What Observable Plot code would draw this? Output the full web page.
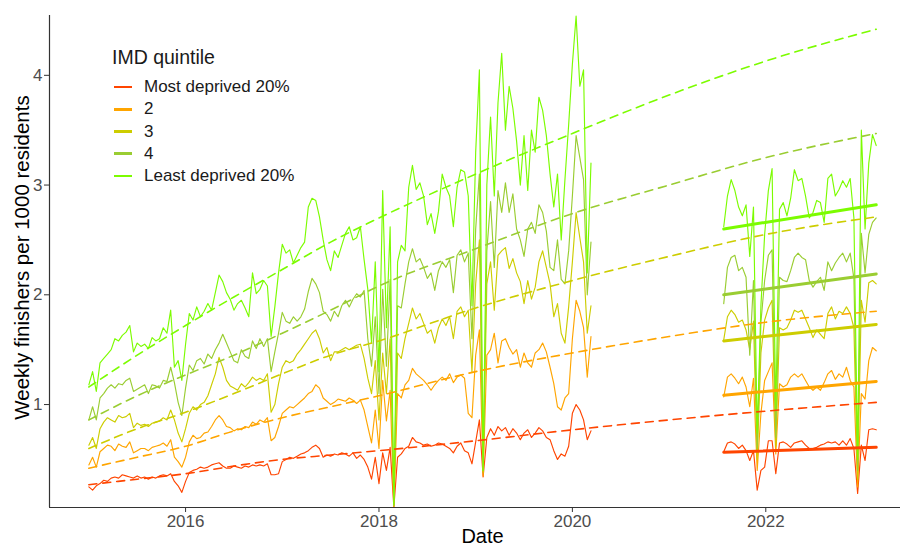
<!DOCTYPE html>
<html>
<head>
<meta charset="utf-8">
<script src="https://cdn.jsdelivr.net/npm/d3@7"></script>
<script src="https://cdn.jsdelivr.net/npm/@observablehq/plot@0.6"></script>
<style>
  html, body { margin: 0; padding: 0; background: #ffffff; }
  #wrap { position: relative; width: 901px; height: 548px; overflow: hidden;
          font-family: "Liberation Sans", Arial, Helvetica, sans-serif; background: #fff; }
  #wrap svg { display: block; }
  #wrap g[aria-label$="tick label"], #wrap g[aria-label$="tick label"] text { fill: #4d4d4d; }
  #wrap g[aria-label$="-axis tick"] { stroke: #333333; }
  .lg { position: absolute; white-space: nowrap; color: #1a1a1a; }
  .lg-title { font-size: 19.5px; line-height: 22px; }
  .lg-label { font-size: 17px; line-height: 22px; }
  .lg-key { position: absolute; height: 2.8px; width: 18px; }
</style>
</head>
<body>
<div id="wrap"></div>
<script>
// ---------------- data ----------------
const quintiles = ["Most deprived 20%", "2", "3", "4", "Least deprived 20%"];
const quintileColors = ["#FF4500", "#FFA500", "#CDCD00", "#9ACD32", "#7CFC00"];
const legendTitle = "IMD quintile";
const xTitle = "Date";
const yTitle = "Weekly finishers per 1000 residents";
const xTicks = [2016, 2018, 2020, 2022];
const yTicks = [1, 2, 3, 4];

// sampling schedule (decimal years, fortnightly samples)
const preStart = 2015.0;
const postStart = 2021.565;
const stepYears = 1 / 26;

// weekly finishers per 1000 residents, pre-pandemic (Jan 2015 - Mar 2020)
const preMostDeprived = [
0.25,0.22,0.26,0.28,0.31,0.30,0.33,0.34,0.33,0.36,
0.35,0.34,0.33,0.35,0.33,0.34,0.32,0.34,0.33,0.35,
0.36,0.35,0.37,0.30,0.26,0.20,0.30,0.38,0.40,0.41,
0.43,0.42,0.43,0.45,0.46,0.47,0.44,0.42,0.42,0.44,
0.43,0.42,0.44,0.43,0.45,0.44,0.45,0.44,0.46,0.36,
0.36,0.37,0.48,0.50,0.52,0.51,0.53,0.55,0.56,0.58,
0.61,0.63,0.60,0.52,0.54,0.53,0.55,0.54,0.56,0.55,
0.53,0.56,0.51,0.54,0.50,0.43,0.32,0.52,0.28,0.56,
0.40,0.61,0.065,0.52,0.55,0.60,0.62,0.70,0.66,0.65,
0.63,0.64,0.62,0.63,0.65,0.64,0.62,0.60,0.56,0.62,
0.65,0.58,0.56,0.46,0.66,0.86,0.34,0.70,0.78,0.72,
0.80,0.76,0.79,0.72,0.78,0.74,0.68,0.74,0.77,0.70,
0.74,0.79,0.76,0.70,0.68,0.58,0.50,0.55,0.53,0.62,
0.92,1.00,0.95,0.86,0.68,0.76];
const preQ2 = [
0.45,0.52,0.43,0.57,0.60,0.63,0.62,0.58,0.64,0.62,
0.61,0.66,0.56,0.58,0.60,0.60,0.58,0.61,0.62,0.63,
0.65,0.62,0.68,0.52,0.48,0.43,0.52,0.66,0.72,0.69,
0.70,0.74,0.75,0.80,0.86,0.90,0.86,0.80,0.79,0.76,
0.78,0.77,0.80,0.79,0.84,0.82,0.86,0.84,0.88,0.67,
0.70,0.80,0.92,0.95,0.98,0.97,1.00,1.03,1.06,1.10,
1.12,1.18,1.15,1.06,1.03,1.00,1.02,1.05,1.04,1.03,
1.06,1.04,1.01,1.04,0.95,0.80,0.65,0.95,0.60,1.22,
0.85,1.13,0.07,1.10,1.06,1.18,1.22,1.33,1.28,1.25,
1.22,1.18,1.13,1.18,1.22,1.25,1.22,1.28,1.20,1.25,
1.27,1.24,0.92,0.88,1.45,1.68,0.35,1.45,1.50,1.65,
1.38,1.58,1.60,1.52,1.46,1.50,1.34,1.47,1.38,1.34,
1.47,1.50,1.56,1.48,1.34,1.19,0.98,0.95,1.06,1.10,
1.60,1.95,1.85,1.70,1.25,1.62];
const preQ3 = [
0.63,0.70,0.60,0.78,0.84,0.88,0.86,0.84,0.90,0.88,
0.89,0.92,0.79,0.83,0.81,0.82,0.80,0.83,0.84,0.85,
0.88,0.86,0.95,0.86,0.74,0.66,0.78,0.92,0.98,0.95,
1.00,1.02,1.08,1.18,1.28,1.43,1.34,1.22,1.17,1.15,
1.13,1.19,1.16,1.20,1.25,1.22,1.24,1.22,1.28,0.93,
1.00,1.19,1.34,1.40,1.38,1.40,1.46,1.50,1.55,1.60,
1.65,1.68,1.60,1.47,1.52,1.40,1.48,1.48,1.50,1.52,
1.50,1.52,1.54,1.55,1.42,1.24,1.10,1.40,0.86,1.47,
1.10,1.60,0.075,1.47,1.42,1.60,1.74,1.88,1.78,1.83,
1.74,1.65,1.68,1.56,1.70,1.78,1.72,1.80,1.60,1.85,
1.89,1.80,1.86,1.30,2.10,2.50,0.38,2.10,2.30,1.86,
2.36,2.40,2.43,2.24,2.33,2.20,2.12,1.92,2.13,1.96,
2.07,2.30,2.40,2.25,2.10,1.80,1.92,1.65,1.56,1.89,
2.30,2.75,2.52,2.30,1.65,1.90];
const preQ4 = [
0.86,0.98,0.86,1.06,1.10,1.15,1.18,1.15,1.19,1.18,
1.22,1.24,1.12,1.14,1.16,1.18,1.10,1.18,1.17,1.15,
1.22,1.21,1.34,1.20,1.02,0.90,1.15,1.36,1.31,1.40,
1.42,1.37,1.46,1.42,1.50,1.56,1.64,1.56,1.48,1.40,
1.38,1.50,1.44,1.42,1.58,1.51,1.60,1.53,1.60,1.30,
1.48,1.65,1.84,1.76,1.74,1.80,1.76,1.80,1.87,2.03,
2.15,2.10,2.02,1.85,1.82,1.76,1.85,1.80,1.90,1.95,
1.89,1.96,2.01,1.98,2.04,1.60,1.35,1.80,1.10,2.05,
1.35,2.14,0.08,1.90,1.88,2.10,2.30,2.42,2.30,2.33,
2.25,2.15,2.20,2.04,2.22,2.30,2.25,2.32,2.02,2.36,
2.41,2.30,2.38,1.60,2.60,3.10,0.40,2.40,2.85,2.25,
2.95,2.75,3.02,2.75,2.92,2.60,2.50,2.35,2.60,2.66,
2.56,2.82,2.75,2.58,2.25,2.22,2.50,2.14,2.10,2.40,
2.90,3.45,3.25,3.05,2.00,2.48];
const preLeastDeprived = [
1.18,1.30,1.12,1.38,1.42,1.46,1.50,1.60,1.58,1.63,
1.66,1.72,1.48,1.56,1.53,1.55,1.51,1.61,1.58,1.60,
1.70,1.65,1.86,1.34,1.40,1.22,1.55,1.83,1.77,1.89,
1.80,1.85,1.92,1.86,2.02,2.18,2.12,2.02,1.96,1.86,
1.92,1.95,1.88,1.80,2.20,2.01,2.05,2.13,2.08,1.62,
1.89,2.20,2.46,2.38,2.41,2.29,2.36,2.43,2.48,2.80,
2.88,2.86,2.71,2.50,2.32,2.22,2.40,2.34,2.45,2.56,
2.62,2.50,2.52,2.62,2.32,2.05,1.56,2.30,1.30,2.95,
1.70,2.62,0.09,2.30,2.45,2.40,2.98,3.18,2.96,3.02,
2.90,2.64,2.74,2.56,2.76,3.10,2.98,2.90,2.62,2.98,
3.14,3.12,2.90,1.90,3.30,4.05,0.40,3.00,3.62,2.90,
3.75,4.20,3.50,3.90,3.70,3.40,3.00,3.45,2.95,3.50,
3.30,3.80,3.68,3.45,3.10,2.80,3.10,2.50,3.05,3.55,
4.10,4.54,3.90,4.05,2.20,3.20];

// post-restart (Jul 2021 - Feb 2023)
const postMostDeprived = [
0.57,0.65,0.66,0.64,0.60,0.63,0.58,0.49,0.58,0.22,
0.40,0.43,0.67,0.67,0.37,0.65,0.66,0.64,0.61,0.65,
0.66,0.67,0.63,0.60,0.60,0.61,0.63,0.64,0.66,0.65,
0.66,0.63,0.67,0.63,0.69,0.60,0.19,0.63,0.49,0.77,
0.78,0.77];
const postQ2 = [
1.07,1.25,1.28,1.24,1.19,1.25,1.16,0.98,1.24,0.40,
0.92,1.22,1.30,1.38,0.55,1.19,1.16,1.18,1.25,1.28,
1.25,1.28,1.22,1.16,1.13,1.16,1.13,1.20,1.28,1.31,
1.23,1.28,1.25,1.34,1.22,1.16,0.25,1.10,1.05,1.40,
1.52,1.49];
const postQ3 = [
1.59,1.80,1.86,1.82,1.75,1.77,1.68,1.50,1.76,0.50,
1.47,1.77,1.88,1.95,0.62,1.70,1.68,1.70,1.77,1.86,
1.84,1.86,1.78,1.70,1.61,1.68,1.64,1.60,1.83,1.89,
1.78,1.85,1.83,1.89,1.83,1.70,0.32,1.95,1.75,2.11,
2.13,2.10];
const postQ4 = [
1.92,2.25,2.34,2.36,2.22,2.25,2.16,1.45,2.13,0.60,
1.75,2.13,2.36,2.41,0.70,2.16,2.13,2.12,2.22,2.34,
2.38,2.34,2.32,2.13,2.07,2.12,2.16,2.04,2.30,2.22,
2.29,2.34,2.38,2.30,2.38,2.15,0.40,2.56,2.20,2.55,
2.66,2.70];
const postLeastDeprived = [
2.62,2.90,3.05,2.95,2.80,2.72,2.82,2.35,2.80,0.74,
1.90,2.55,2.95,3.15,0.95,2.78,2.84,2.72,2.88,3.14,
3.04,3.06,2.90,2.70,2.75,2.86,2.84,2.66,3.06,3.10,
2.90,2.96,3.04,2.98,3.06,2.70,0.50,3.50,2.60,3.20,
3.46,3.36];

// pre-pandemic trend (dashed), read at these years and projected to 2023
const trendYears = [2015.0, 2015.5, 2016.0, 2016.5, 2017.0, 2017.5, 2018.0, 2019.0, 2020.0, 2021.0, 2022.0, 2023.142];
const trendMostDeprived = [0.27,0.32,0.37,0.44,0.50,0.54,0.58,0.67,0.77,0.86,0.94,1.02];
const trendQ2 = [0.42,0.52,0.62,0.76,0.88,0.98,1.08,1.30,1.47,1.62,1.75,1.85];
const trendQ3 = [0.60,0.78,0.93,1.10,1.28,1.45,1.58,1.88,2.13,2.35,2.55,2.71];
const trendQ4 = [0.86,1.08,1.27,1.45,1.65,1.86,2.08,2.42,2.74,3.00,3.25,3.47];
const trendLeastDeprived = [1.16,1.45,1.72,1.98,2.23,2.48,2.70,3.10,3.47,3.82,4.13,4.42];

// post-restart linear trend (solid): value at first and last week
const postTrendStart = [0.565, 1.085, 1.58, 2.00, 2.60];
const postTrendEnd = [0.61, 1.21, 1.73, 2.19, 2.82];

// ---------------- build tables ----------------
const preSeries = [preMostDeprived, preQ2, preQ3, preQ4, preLeastDeprived];
const postSeries = [postMostDeprived, postQ2, postQ3, postQ4, postLeastDeprived];
const trendSeries = [trendMostDeprived, trendQ2, trendQ3, trendQ4, trendLeastDeprived];

const seriesRows = quintiles.map((q, k) => {
  const rows = [];
  preSeries[k].forEach((v, i) => rows.push({q, seg: "pre", t: preStart + i * stepYears, v}));
  postSeries[k].forEach((v, j) => rows.push({q, seg: "post", t: postStart + j * stepYears, v}));
  return rows;
});
const trendRows = [];
quintiles.forEach((q, k) => trendYears.forEach((t, i) => trendRows.push({q, t, v: trendSeries[k][i]})));
const postTrendRows = [];
quintiles.forEach((q, k) => {
  const tEnd = postStart + (postSeries[k].length - 1) * stepYears;
  postTrendRows.push({q, t: postStart, v: postTrendStart[k]});
  postTrendRows.push({q, t: tEnd, v: postTrendEnd[k]});
});

// ---------------- plot ----------------
const xDomain = [2014.593, 2023.393];
const yDomain = [0.062, 4.545];

const marks = [];
seriesRows.forEach(rows => {
  marks.push(Plot.line(rows, {x: "t", y: "v", z: "seg", stroke: "q", strokeWidth: 1.15, curve: "linear"}));
});
marks.push(Plot.line(trendRows, {x: "t", y: "v", z: "q", stroke: "q", strokeWidth: 1.6, strokeDasharray: "8,6", curve: "monotone-x"}));
marks.push(Plot.line(postTrendRows, {x: "t", y: "v", z: "q", stroke: "q", strokeWidth: 3}));
marks.push(Plot.ruleY([yDomain[0]], {stroke: "#333333", strokeWidth: 1.2}));
marks.push(Plot.ruleX([xDomain[0]], {stroke: "#333333", strokeWidth: 1.2}));
marks.push(Plot.axisX({ticks: xTicks, tickFormat: d => String(d), tickSize: 5, tickPadding: 2, fontSize: 17, label: null}));
marks.push(Plot.axisY({ticks: yTicks, tickFormat: d => String(d), tickSize: 5, tickPadding: 2, fontSize: 17, label: null}));
marks.push(Plot.text([xTitle], {frameAnchor: "bottom", textAnchor: "middle", dy: 35, dx: 7.5, fontSize: 20, fill: "#000000"}));
marks.push(Plot.text([yTitle], {frameAnchor: "left", textAnchor: "middle", rotate: -90, dx: -27, dy: -4, fontSize: 20.5, fill: "#000000"}));

const chart = Plot.plot({
  width: 901,
  height: 548,
  marginLeft: 49,
  marginRight: 1,
  marginTop: 15,
  marginBottom: 41,
  style: {fontFamily: '"Liberation Sans", Arial, Helvetica, sans-serif', background: "#ffffff", color: "#333333"},
  x: {type: "linear", domain: xDomain},
  y: {type: "linear", domain: yDomain},
  color: {domain: quintiles, range: quintileColors},
  marks
});

const wrap = document.getElementById("wrap");
wrap.appendChild(chart);

// ---------------- legend (inside panel, top-left) ----------------
const title = document.createElement("div");
title.className = "lg lg-title";
title.textContent = legendTitle;
title.style.left = "112px";
title.style.top = "46px";
wrap.appendChild(title);

quintiles.forEach((q, k) => {
  const cy = 87 + 22.25 * k;
  const key = document.createElement("div");
  key.className = "lg-key";
  key.style.left = "114px";
  key.style.top = (cy - 1.4) + "px";
  key.style.background = quintileColors[k];
  wrap.appendChild(key);
  const lab = document.createElement("div");
  lab.className = "lg lg-label";
  lab.textContent = q;
  lab.style.left = "144px";
  lab.style.top = (cy - 11) + "px";
  wrap.appendChild(lab);
});
</script>
</body>
</html>
